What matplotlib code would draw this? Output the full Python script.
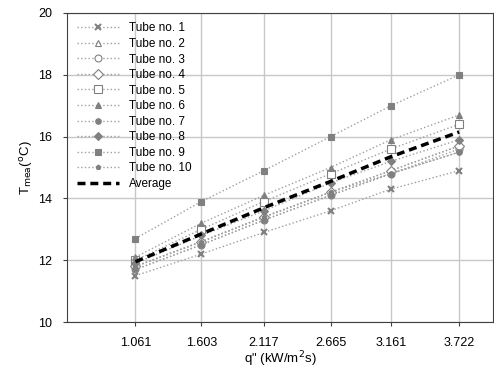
import matplotlib
matplotlib.use("Agg")
import matplotlib.pyplot as plt

plt.rcParams["font.family"] = ["Liberation Sans", "DejaVu Sans"]

q = [1.061, 1.603, 2.117, 2.665, 3.161, 3.722]
tube1 = [11.5, 12.2, 12.9, 13.6, 14.3, 14.9]
tube2 = [11.8, 12.6, 13.4, 14.2, 14.9, 15.7]
tube3 = [11.7, 12.5, 13.3, 14.1, 14.8, 15.6]
tube4 = [11.8, 12.6, 13.4, 14.2, 14.9, 15.7]
tube5 = [12.0, 13.0, 13.9, 14.8, 15.6, 16.4]
tube6 = [12.1, 13.2, 14.1, 15.0, 15.9, 16.7]
tube7 = [11.7, 12.5, 13.3, 14.1, 14.8, 15.5]
tube8 = [11.9, 12.8, 13.6, 14.5, 15.2, 15.9]
tube9 = [12.7, 13.9, 14.9, 16.0, 17.0, 18.0]
tube10 = [11.8, 12.6, 13.4, 14.2, 14.8, 15.5]
average = [11.95, 12.85, 13.7, 14.55, 15.35, 16.15]

tubes = [tube1, tube2, tube3, tube4, tube5, tube6, tube7, tube8, tube9, tube10]
markers = ["x", "^", "o", "D", "s", "^", "o", "D", "s", "p"]
filled = [True, False, False, False, False, True, True, True, True, True]
sizes = [5, 5, 5, 5, 6, 5, 4, 4.5, 5, 3.5]

grey = "#808080"
fig = plt.figure(figsize=(4.94, 3.71), dpi=100)
ax = fig.add_axes([0.136, 0.132, 0.862, 0.833])

for i, t in enumerate(tubes):
    ax.plot(q, t, linestyle=":", color="#a0a0a0", linewidth=1.0,
            marker=markers[i], markersize=sizes[i],
            markerfacecolor=grey if filled[i] else "white",
            markeredgecolor=grey, markeredgewidth=1.5 if markers[i] == "x" else 0.8,
            label="Tube no. %d" % (i + 1))
ax.plot(q, average, linestyle=(0, (2.3, 1.4)), color="black", linewidth=2.5, label="Average")

ax.set_xlim(0.5, 4.0)
ax.set_ylim(10, 20)
ax.set_xticks(q)
ax.set_xticklabels(["1.061", "1.603", "2.117", "2.665", "3.161", "3.722"])
ax.set_yticks([10, 12, 14, 16, 18, 20])
ax.grid(True, color="#c8c8c8", linewidth=1.0)
ax.set_axisbelow(True)
for s in ax.spines.values():
    s.set_color("#404040")
ax.tick_params(labelsize=9, length=3, color="#404040")
ax.tick_params(axis="y", pad=8)
ax.tick_params(axis="x", pad=8)

ax.set_xlabel("q\" (kW/m$^2$s)", fontsize=9.5, labelpad=0)
ax.set_ylabel("T$_{\\mathrm{mea}}$($^\\mathrm{o}$C)", fontsize=9.5, labelpad=2)

ax.legend(loc="upper left", frameon=False, fontsize=8.5, handlelength=3.6,
          labelspacing=0.3, borderaxespad=0.4)

fig.savefig("out.png", dpi=100)
